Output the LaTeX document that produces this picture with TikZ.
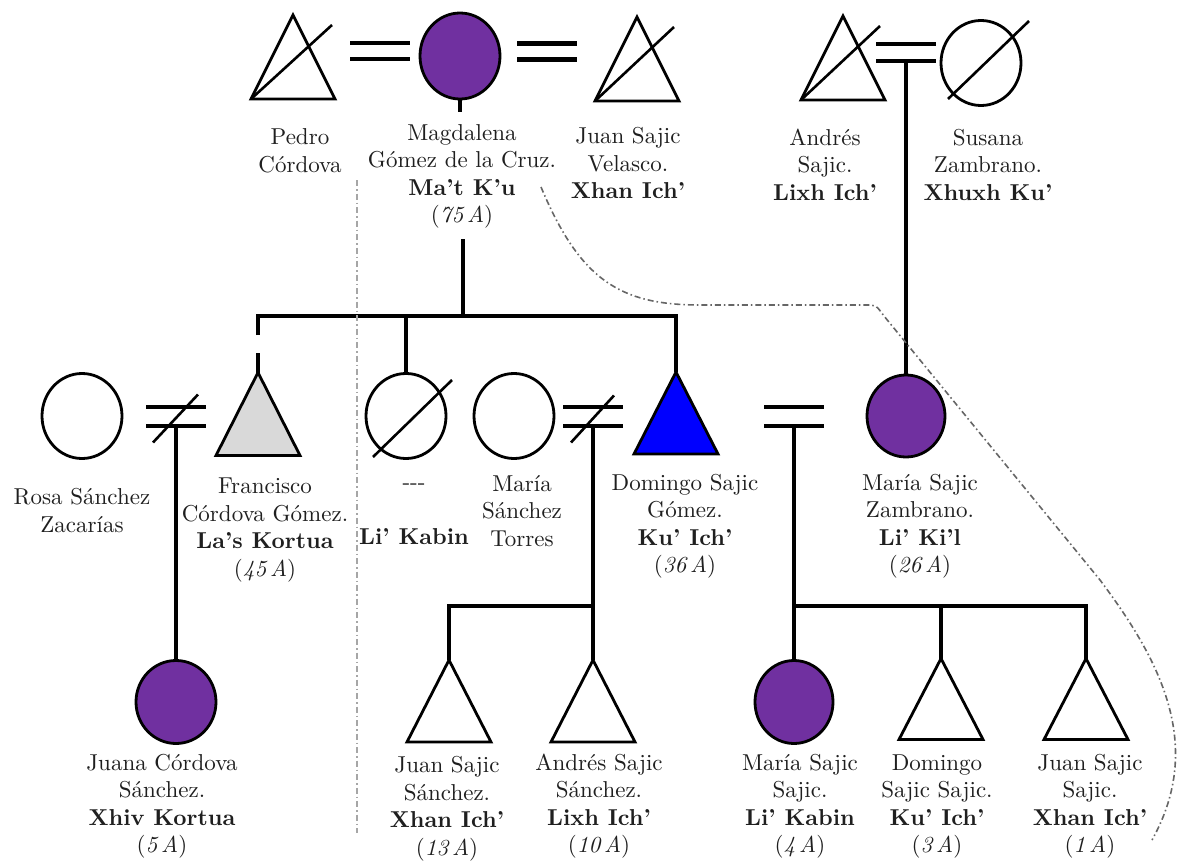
\documentclass[tikz,border=0pt]{standalone}
\usepackage{fontspec}
\setmainfont{lmroman10-regular}[Extension=.otf, BoldFont=lmroman10-bold, ItalicFont=lmroman10-italic, BoldItalicFont=lmroman10-bolditalic]
\usetikzlibrary{shapes}
\usetikzlibrary{calc}
\definecolor{lilac}{HTML}{7030A0}
\definecolor{pale}{HTML}{D9D9D9}
\tikzset{
    mymale/.style = {rectangle, inner sep=0pt, outer sep=0pt, minimum width=84pt, minimum height=84pt,
        append after command={\pgfextra{\draw[line width=2.8pt, fill=#1] (\tikzlastnode.north) -- (\tikzlastnode.south east) -- (\tikzlastnode.south west) -- cycle;}}},
    mymale/.default = white,
    myfemale/.style = {ellipse, inner sep=0pt, outer sep=0pt, draw=black, line width=2.8pt, minimum width=80pt, minimum height=85pt, fill=#1},
    myfemale/.default = white,
    mylabel/.style = {align=center, inner sep=0pt, text=black!88, font=\fontsize{23}{27.5}\selectfont},
    edgen/.style = {-, line width=3.5pt, black},
    edgem/.style = {-, line width=4.5pt, black}, % union
    edgex/.style = {-, line width=2.6pt, black}, % deceased / separated
    edgegd/.style = {-, line width=1.6pt, gray, dash pattern=on 6pt off 3pt on 1.5pt off 3pt}, % boundary
}

\begin{document}
\begin{tikzpicture}[x=1pt, y=-1pt]
  \useasboundingbox (0,0) rectangle (1189,862);
  \fill[white] (0,0) rectangle (1189,862);

  % first generation
  \node[mymale] (pedro) at (293,57) {};
  \node[myfemale=lilac, minimum height=86pt] (magda) at (460,56) {};
  \node[mymale] (juanv) at (637,59) {};
  \node[mymale] (andres) at (843,58) {};
  \node[myfemale] (susana) at (981,63) {};

  % second generation
  \node[myfemale, minimum height=85pt] (rosa) at (82,416) {};
  \node[mymale=pale, minimum height=83pt] (franc) at (258,414) {};
  \node[myfemale] (likabin) at (406,416) {};
  \node[myfemale] (mariast) at (514,416) {};
  \node[mymale=blue, minimum height=82pt] (domingo) at (676,413) {};
  \node[myfemale=lilac, minimum width=78pt, minimum height=82pt] (mariasz) at (906,416) {};

  % third generation
  \node[myfemale=lilac, minimum height=83pt] (juana) at (176,702) {};
  \node[mymale, minimum height=82pt] (juanss) at (449,701) {};
  \node[mymale, minimum height=82pt] (andresss) at (593,701) {};
  \node[myfemale=lilac, minimum width=78pt, minimum height=83pt] (mariass) at (794,702) {};
  \node[mymale, minimum height=81pt] (domss) at (941,699) {};
  \node[mymale, minimum height=81pt] (juansj) at (1086,699) {};

  % labels
  \node[mylabel] (pedroL) at (300,151) {Pedro\\Córdova};
  \node[mylabel] (magdaL) at (462,176.5) {Magdalena\\Gómez de la Cruz.\\\textbf{Ma’t K’u}\\(\textit{75\,A})};
  \node[mylabel] (juanvL) at (628,163) {Juan Sajic\\Velasco.\\\textbf{Xhan Ich’}};
  \node[mylabel] (andresL) at (825,164.5) {Andrés\\Sajic.\\\textbf{Lixh Ich’}};
  \node[mylabel] (susanaL) at (988,164.5) {Susana\\Zambrano.\\\textbf{Xhuxh Ku’}};
  \node[mylabel] (rosaL) at (82,510.5) {Rosa Sánchez\\Zacarías};
  \node[mylabel] (francL) at (265,530) {Francisco\\Córdova Gómez.\\\textbf{La’s Kortua}\\(\textit{45\,A})};
  \node[mylabel] (likabinL) at (414,514.5) {-{}-{}-\\~\\\textbf{Li’ Kabin}};
  \node[mylabel] (mariastL) at (522,511) {María\\Sánchez\\Torres};
  \node[mylabel] (domingoL) at (685,526.5) {Domingo Sajic\\Gómez.\\\textbf{Ku’ Ich’}\\(\textit{36\,A})};
  \node[mylabel] (mariaszL) at (920,526.5) {María Sajic\\Zambrano.\\\textbf{Li’ Ki’l}\\(\textit{26\,A})};
  \node[mylabel] (juanaL) at (162,806.5) {Juana Córdova\\Sánchez.\\\textbf{Xhiv Kortua}\\(\textit{5\,A})};
  \node[mylabel] (juanssL) at (447,809) {Juan Sajic\\Sánchez.\\\textbf{Xhan Ich’}\\(\textit{13\,A})};
  \node[mylabel] (andresssL) at (599,806) {Andrés Sajic\\Sánchez.\\\textbf{Lixh Ich’}\\(\textit{10\,A})};
  \node[mylabel] (mariassL) at (800,806.5) {María Sajic\\Sajic.\\\textbf{Li’ Kabin}\\(\textit{4\,A})};
  \node[mylabel] (domssL) at (937,806.5) {Domingo\\Sajic Sajic.\\\textbf{Ku’ Ich’}\\(\textit{3\,A})};
  \node[mylabel] (juansjL) at (1090,806.5) {Juan Sajic\\Sajic.\\\textbf{Xhan Ich’}\\(\textit{1\,A})};

  % unions and sibling bars
  \coordinate (m1) at (380,51);
  \coordinate (m2) at (547,51.5);
  \coordinate (m3) at (906,52.5);
  \coordinate (m4) at (176,416.5);
  \coordinate (m5) at (593,416.5);
  \coordinate (m6) at (794,416.5);
  \coordinate (sib1) at (463,316);
  \coordinate (sib2) at (593,606);
  \coordinate (sib3) at (794,606);
  \foreach \m/\h in {m1/8, m2/8, m3/8.5, m4/9.5, m5/9.5, m6/9.5}{
    \draw[edgem] ($(\m)+(-30,-\h)$) -- ($(\m)+(30,-\h)$);
    \draw[edgem] ($(\m)+(-30,\h)$) -- ($(\m)+(30,\h)$);
  }

  % deceased and separated
  \draw[edgex] (pedro.south west) -- ($(pedro.north east)+(-3,10)$);
  \draw[edgex] (juanv.south west) -- ($(juanv.north east)+(-5,10)$);
  \draw[edgex] (andres.south west) -- ($(andres.north east)+(-5,10)$);
  \draw[edgex] ($(susana)+(-33,36)$) -- ($(susana)+(48,-42)$);
  \draw[edgex] ($(likabin)+(-33,41)$) -- ($(likabin)+(46,-36)$);
  \draw[edgex] ($(m4)+(-23,26)$) -- ($(m4)+(22,-22)$);
  \draw[edgex] ($(m5)+(-22,26)$) -- ($(m5)+(21,-21)$);

  % descent
  \draw[edgen] (magda.south) -- ++(0,13);
  \draw[edgen] (sib1) -- ++(0,-77);
  \draw[edgen] ($(franc.north |- sib1)+(0,19)$) -- (franc.north |- sib1) -- (domingo.north |- sib1) -- (domingo.north);
  \draw[edgen] (franc.north) -- ++(0,-20);
  \draw[edgen] (likabin.north) -- (likabin.north |- sib1);
  \draw[edgen] ($(m3)+(0,8.5)$) -- (mariasz.north);
  \draw[edgen] ($(m4)+(0,9.5)$) -- (juana.north);
  \draw[edgen] ($(m5)+(0,9.5)$) -- (andresss.north);
  \draw[edgen] (juanss.north) -- (juanss.north |- sib2) -- (sib2);
  \draw[edgen] ($(m6)+(0,9.5)$) -- (mariass.north);
  \draw[edgen] (sib3) -- (juansj.north |- sib3) -- (juansj.north);
  \draw[edgen] (domss.north) -- (domss.north |- sib3);

  % household boundaries
  \draw[edgegd, gray!70] (357,180) -- (357,833);
  \draw[edgegd, black!60] (541,187) .. controls (580,280) and (620,305) .. (700,305) -- (866,305)
    .. controls (876,305) .. (884,316) -- (1100,580) .. controls (1160,660) and (1205,745) .. (1152,840);
\end{tikzpicture}
\end{document}
